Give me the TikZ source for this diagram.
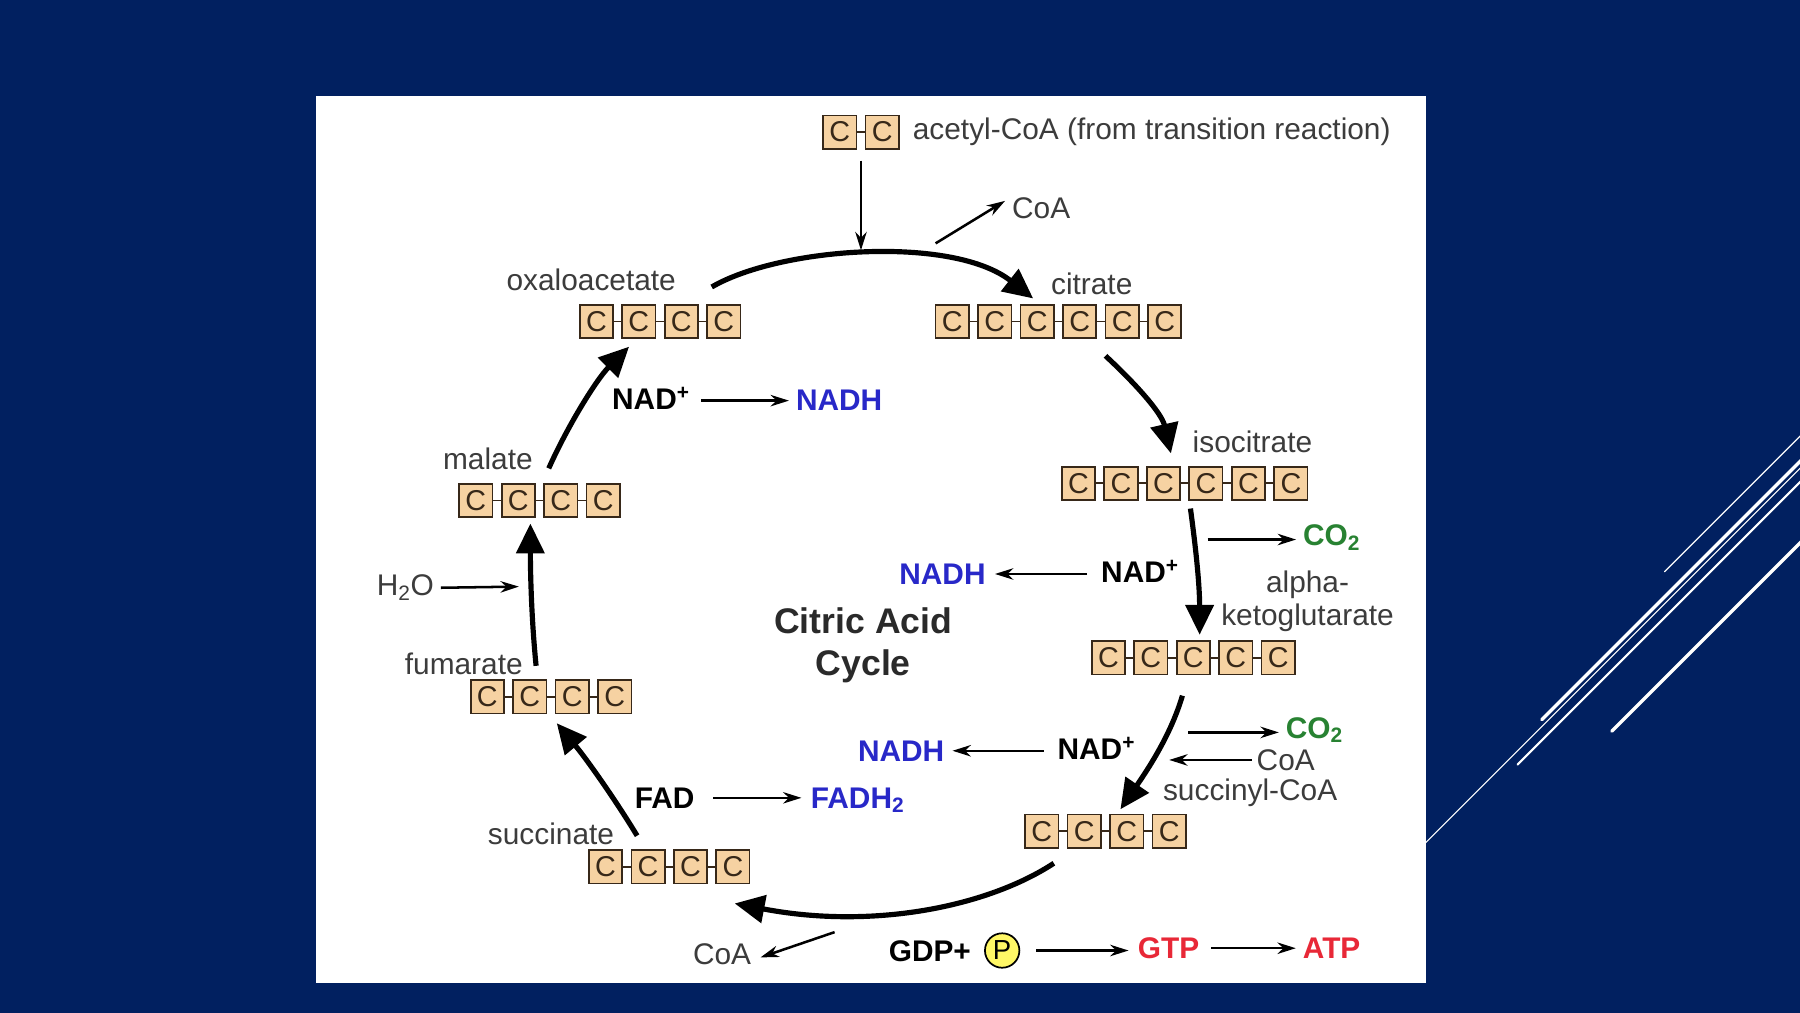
\documentclass[tikz,border=0pt]{standalone}
\usepackage{fontspec}
\setmainfont{Liberation Sans}
\usetikzlibrary{arrows.meta}
\definecolor{navy}{RGB}{1,32,96}
\definecolor{tanfill}{RGB}{246,210,162}
\definecolor{boxline}{RGB}{55,40,25}
\definecolor{nadblue}{RGB}{40,40,200}
\definecolor{cogreen}{RGB}{40,130,50}
\definecolor{atpred}{RGB}{232,40,55}
\definecolor{labelgray}{RGB}{60,60,60}
\newcommand\cchain[4]{%
  \foreach \i in {1,...,#4}{%
    \node[cbox] (#1\i) at ({#2+14.5+(\i-1)*37},#3) {C};
    \ifnum\i>1
      \pgfmathtruncatemacro\prevbox{\i-1}
      \draw[boxline, line width=1.5pt] (#1\prevbox.east) -- (#1\i.west);
    \fi
  }%
}
\begin{document}
\begin{tikzpicture}[x=1pt,y=-1pt,
  cbox/.style={draw=boxline, fill=tanfill, line width=1.5pt, minimum width=29pt,
    minimum height=29pt, inner sep=0pt, text=boxline, font=\fontsize{25}{25}\selectfont},
  lbl/.style={inner sep=0pt, text=labelgray, font=\fontsize{26}{29}\selectfont},
  chem/.style={inner sep=0pt, text=black, font=\fontsize{26}{29}\selectfont\bfseries},
  bigarrow/.style={line width=4.5pt, black, -{Triangle[length=26pt,width=24pt]}},
  thinarrow/.style={line width=2.2pt, black, -{Stealth[length=16pt,width=10pt]}},
  deco/.style={white, line cap=round}]
\useasboundingbox (0,0) rectangle (1568,882);
\fill[navy] (0,0) rectangle (1568,882);
\fill[white] (275,84) rectangle (1242,856);
% slide decoration
\draw[deco, line width=1.2pt] (1450,498) -- (1600,348);
\draw[deco, line width=3pt] (1343,627) -- (1600,370);
\draw[deco, line width=1.8pt] (1322,666) -- (1600,388);
\draw[deco, line width=1pt] (1242,734) -- (1600,376);
\draw[deco, line width=3pt] (1404,637) -- (1600,441);
% carbon chains
\cchain{acet}{717}{115}{2}
\cchain{oxa}{505}{280}{4}
\cchain{cit}{815}{280}{6}
\cchain{iso}{925}{421}{6}
\cchain{akg}{951}{573}{5}
\cchain{sca}{893}{724}{4}
\cchain{suc}{513}{755}{4}
\cchain{fum}{410}{607}{4}
\cchain{mal}{400}{436}{4}
% labels
\node[lbl, anchor=west] (acetT) at (795,115) {acetyl-CoA (from transition reaction)};
\node[lbl] (coaTop) at (907,181) {CoA};
\node[lbl] (oxaT) at (515,244) {oxaloacetate};
\node[lbl] (citT) at (951,247) {citrate};
\node[lbl] (isoT) at (1091,385) {isocitrate};
\node[lbl, align=center] (akgT) at (1139,524) {alpha-\\ketoglutarate};
\node[lbl] (scaT) at (1089,691) {succinyl-CoA};
\node[lbl] (sucT) at (480,726) {succinate};
\node[lbl] (fumT) at (404,578) {fumarate};
\node[lbl] (malT) at (425,400) {malate};
\node[chem, align=center, font=\fontsize{31}{36}\selectfont\bfseries, text=labelgray!70!black] (title) at (752,562) {Citric Acid\\Cycle};
% side reactions
\node[chem] (nadA) at (567,347) {NAD\textsuperscript{+}};
\node[chem, text=nadblue] (nadhA) at (731,349) {NADH};
\node[chem, text=cogreen] (co2A) at (1160,468) {CO\textsubscript{2}};
\node[chem] (nadB) at (993,498) {NAD\textsuperscript{+}};
\node[chem, text=nadblue] (nadhB) at (821,500) {NADH};
\node[chem, text=cogreen] (co2B) at (1145,636) {CO\textsubscript{2}};
\node[lbl] (coaMid) at (1120,662) {CoA};
\node[chem] (nadC) at (955,652) {NAD\textsuperscript{+}};
\node[chem, text=nadblue] (nadhC) at (785,654) {NADH};
\node[chem] (fad) at (579,695) {FAD};
\node[chem, text=nadblue] (fadh) at (747,697) {FADH\textsubscript{2}};
\node[lbl] (coaBot) at (629,831) {CoA};
\node[chem] (gdp) at (810,829) {GDP+};
\node[circle, draw=black, line width=1.5pt, fill=yellow!60, minimum size=30pt, inner sep=0pt,
  font=\fontsize{24}{24}\selectfont] (pi) at (873,828) {P};
\node[chem, text=atpred] (gtp) at (1018,826) {GTP};
\node[chem, text=atpred] (atp) at (1160,826) {ATP};
\node[lbl] (h2o) at (353,512) {H\textsubscript{2}O};
% coordinates on the cycle
\coordinate (acetOut) at (750,140);
\coordinate (join) at (750,218);
\coordinate (coaOut) at (815,212);
\coordinate (coaBotOut) at (727,812);
\coordinate (h2oIn) at (452,511);
\coordinate (c1s) at (620,250);  \coordinate (c1e) at (900,260);
\coordinate (c2s) at (963,310);  \coordinate (c2e) at (1020,395);
\coordinate (c3s) at (1037,443); \coordinate (c3e) at (1045,553);
\coordinate (c4s) at (1030,606); \coordinate (c4e) at (976,705);
\coordinate (c5s) at (918,752);  \coordinate (c5e) at (640,787);
\coordinate (c6s) at (555,728);  \coordinate (c6e) at (485,630);
\coordinate (c7s) at (467,580);  \coordinate (c7e) at (462,456);
\coordinate (c8s) at (478,408);  \coordinate (c8e) at (548,302);
% main cycle arrows
\draw[bigarrow] (c1s) .. controls (680,215) and (830,205) .. (c1e);
\draw[bigarrow] (c2s) .. controls (990,335) and (1012,360) .. (c2e);
\draw[bigarrow] (c3s) .. controls (1042,480) and (1045,510) .. (c3e);
\draw[bigarrow] (c4s) .. controls (1020,640) and (1000,670) .. (c4e);
\draw[bigarrow] (c5s) .. controls (860,790) and (760,810) .. (c5e);
\draw[bigarrow] (c6s) .. controls (535,695) and (510,660) .. (c6e);
\draw[bigarrow] (c7s) .. controls (463,540) and (462,500) .. (c7e);
\draw[bigarrow] (c8s) .. controls (495,370) and (520,330) .. (c8e);
% thin arrows
\draw[thinarrow] (acetOut) -- (join);
\draw[thinarrow] (coaOut) -- ([xshift=-6pt,yshift=6pt]coaTop.west);
\draw[thinarrow] ([xshift=10pt]nadA.east |- nadhA) -- ([xshift=-6pt]nadhA.west);
\draw[thinarrow] ([xshift=-108pt,yshift=-2pt]co2A.center) -- ([xshift=-6pt,yshift=-2pt]co2A.west);
\draw[thinarrow] ([xshift=-12pt]nadB.west |- nadhB) -- ([xshift=8pt]nadhB.east);
\draw[thinarrow] ([xshift=-110pt,yshift=-2pt]co2B.center) -- ([xshift=-6pt,yshift=-2pt]co2B.west);
\draw[thinarrow] ([xshift=-4pt]coaMid.west) -- ([xshift=-76pt]coaMid.west);
\draw[thinarrow] ([xshift=-12pt]nadC.west |- nadhC) -- ([xshift=7pt]nadhC.east);
\draw[thinarrow] ([xshift=16pt]fad.east) -- ([xshift=-8pt]fadh.west |- fad);
\draw[thinarrow] (coaBotOut) -- ([xshift=8pt,yshift=-3pt]coaBot.east);
\draw[thinarrow] ([xshift=14pt]pi.east) -- ([xshift=-8pt]gtp.west |- pi);
\draw[thinarrow] ([xshift=10pt]gtp.east) -- ([xshift=-6pt]atp.west);
\draw[thinarrow] ([xshift=6pt]h2o.east) -- (h2oIn);
\end{tikzpicture}
\end{document}
